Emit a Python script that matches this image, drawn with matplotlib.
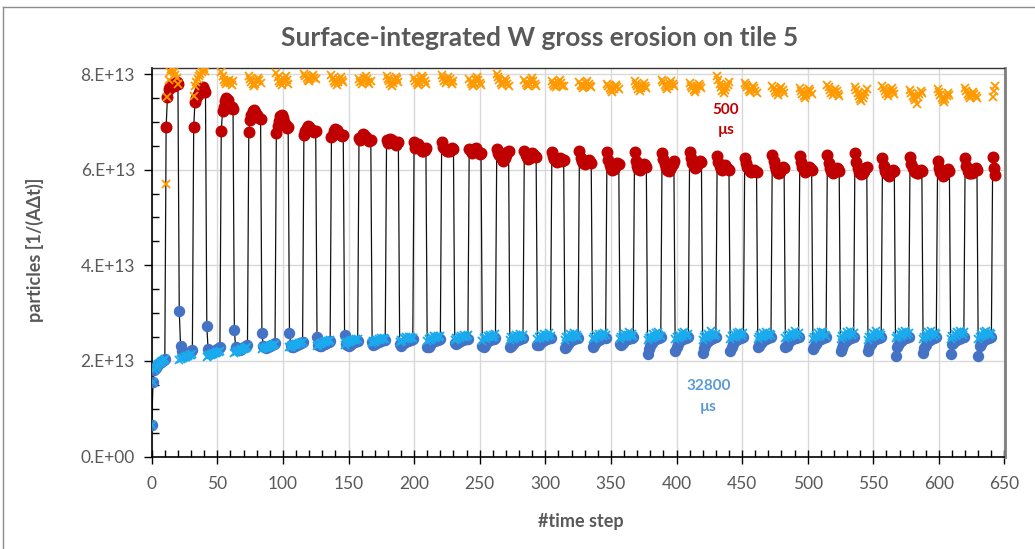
import numpy as np
import matplotlib
matplotlib.use("Agg")
import matplotlib.pyplot as plt
from matplotlib.lines import Line2D

# ---------------- data (units of 1e13 particles) ----------------
# main run: alternating phases, 32800 us steps (blue) and 500 us steps (red)
blue_phases = [
    [0.66, 1.55, 1.80, 1.86, 1.90, 1.93, 1.95, 1.97, 1.99, 2.01, 2.03],
    [3.04, 2.31, 2.20, 2.15, 2.12, 2.13, 2.14, 2.16, 2.18, 2.20, 2.22],
    [2.72, 2.24, 2.18, 2.16, 2.17, 2.19, 2.21, 2.22, 2.24, 2.26, 2.28],
    [2.64, 2.28, 2.24, 2.22, 2.23, 2.25, 2.27, 2.28, 2.30, 2.31, 2.33],
    [2.58, 2.32, 2.28, 2.27, 2.28, 2.30, 2.31, 2.33, 2.34, 2.35, 2.37],
    [2.58, 2.34, 2.30, 2.29, 2.31, 2.33, 2.34, 2.36, 2.37, 2.38, 2.39],
    [2.50, 2.34, 2.32, 2.31, 2.33, 2.35, 2.36, 2.38, 2.39, 2.40, 2.41],
    [2.54, 2.36, 2.33, 2.32, 2.34, 2.36, 2.38, 2.39, 2.40, 2.41, 2.42],
    [2.40, 2.34, 2.35, 2.37, 2.39, 2.40, 2.41, 2.42, 2.43, 2.44, 2.44],
    [2.36, 2.32, 2.35, 2.38, 2.40, 2.41, 2.42, 2.43, 2.44, 2.44, 2.45],
    [2.28, 2.30, 2.34, 2.37, 2.39, 2.41, 2.42, 2.43, 2.44, 2.45, 2.45],
    [2.38, 2.35, 2.37, 2.40, 2.42, 2.43, 2.44, 2.45, 2.45, 2.46, 2.46],
    [2.31, 2.30, 2.34, 2.38, 2.41, 2.43, 2.44, 2.45, 2.46, 2.46, 2.47],
    [2.28, 2.32, 2.36, 2.39, 2.41, 2.43, 2.44, 2.45, 2.46, 2.47, 2.47],
    [2.34, 2.33, 2.37, 2.40, 2.42, 2.44, 2.45, 2.46, 2.47, 2.47, 2.48],
    [2.26, 2.30, 2.35, 2.39, 2.42, 2.44, 2.45, 2.46, 2.47, 2.48, 2.48],
    [2.30, 2.33, 2.37, 2.40, 2.43, 2.44, 2.46, 2.47, 2.47, 2.48, 2.48],
    [2.36, 2.34, 2.38, 2.41, 2.43, 2.45, 2.46, 2.47, 2.48, 2.48, 2.49],
    [2.15, 2.24, 2.32, 2.38, 2.42, 2.44, 2.46, 2.47, 2.48, 2.48, 2.49],
    [2.21, 2.28, 2.35, 2.40, 2.43, 2.45, 2.46, 2.47, 2.48, 2.49, 2.49],
    [2.17, 2.26, 2.34, 2.39, 2.42, 2.44, 2.46, 2.47, 2.48, 2.49, 2.49],
    [2.21, 2.28, 2.35, 2.40, 2.43, 2.45, 2.46, 2.47, 2.48, 2.49, 2.50],
    [2.28, 2.31, 2.36, 2.40, 2.43, 2.45, 2.46, 2.47, 2.48, 2.49, 2.49],
    [2.30, 2.32, 2.37, 2.41, 2.44, 2.45, 2.47, 2.48, 2.48, 2.49, 2.50],
    [2.24, 2.29, 2.35, 2.40, 2.43, 2.45, 2.46, 2.47, 2.48, 2.49, 2.50],
    [2.21, 2.27, 2.34, 2.39, 2.42, 2.44, 2.46, 2.47, 2.48, 2.49, 2.49],
    [2.21, 2.28, 2.35, 2.40, 2.43, 2.45, 2.46, 2.47, 2.48, 2.49, 2.50],
    [2.10, 2.28, 2.34, 2.39, 2.42, 2.44, 2.46, 2.47, 2.48, 2.49, 2.50],
    [2.17, 2.26, 2.34, 2.39, 2.42, 2.44, 2.46, 2.47, 2.48, 2.49, 2.49],
    [2.14, 2.36, 2.38, 2.41, 2.43, 2.45, 2.46, 2.47, 2.48, 2.49, 2.50],
    [2.10, 2.31, 2.36, 2.40, 2.43, 2.45, 2.46, 2.47, 2.48, 2.49, 2.49],
]
red_phases = [
    [6.90, 7.52, 7.68, 7.74, 7.78, 7.80, 7.76, 7.79, 7.84, 7.80],
    [6.89, 7.42, 7.50, 7.56, 7.60, 7.66, 7.70, 7.72, 7.66, 7.62],
    [6.81, 7.22, 7.32, 7.44, 7.50, 7.46, 7.36, 7.30, 7.31, 7.26],
    [6.79, 7.04, 7.14, 7.22, 7.25, 7.20, 7.15, 7.10, 7.08, 7.05],
    [6.77, 6.92, 7.02, 7.12, 7.14, 7.08, 7.00, 6.93, 6.88, 6.90],
    [6.72, 6.80, 6.88, 6.92, 6.90, 6.86, 6.82, 6.80, 6.78, 6.80],
    [6.68, 6.72, 6.80, 6.84, 6.82, 6.78, 6.74, 6.72, 6.70, 6.72],
    [6.66, 6.62, 6.70, 6.75, 6.73, 6.68, 6.65, 6.62, 6.60, 6.63],
    [6.62, 6.55, 6.60, 6.64, 6.62, 6.58, 6.55, 6.52, 6.55, 6.58],
    [6.58, 6.46, 6.50, 6.54, 6.50, 6.44, 6.40, 6.38, 6.42, 6.45],
    [6.58, 6.48, 6.45, 6.42, 6.40, 6.38, 6.40, 6.43, 6.46, 6.44],
    [6.44, 6.38, 6.34, 6.40, 6.44, 6.46, 6.40, 6.36, 6.33, 6.35],
    [6.44, 6.34, 6.30, 6.26, 6.22, 6.18, 6.24, 6.30, 6.36, 6.40],
    [6.38, 6.30, 6.26, 6.22, 6.25, 6.30, 6.35, 6.32, 6.28, 6.26],
    [6.36, 6.28, 6.22, 6.18, 6.16, 6.20, 6.24, 6.22, 6.18, 6.20],
    [6.38, 6.24, 6.18, 6.14, 6.12, 6.15, 6.18, 6.20, 6.16, 6.14],
    [6.37, 6.20, 6.10, 6.04, 6.00, 6.02, 6.06, 6.10, 6.14, 6.12],
    [6.36, 6.18, 6.08, 6.02, 6.00, 6.04, 6.08, 6.12, 6.10, 6.06],
    [6.35, 6.22, 6.12, 6.04, 6.00, 5.98, 6.02, 6.06, 6.12, 6.18],
    [6.37, 6.24, 6.14, 6.08, 6.04, 6.06, 6.10, 6.14, 6.18, 6.15],
    [6.29, 6.16, 6.08, 6.02, 6.00, 6.04, 6.10, 6.06, 6.02, 6.00],
    [6.25, 6.14, 6.06, 6.02, 5.98, 5.96, 5.98, 6.00, 5.98, 5.96],
    [6.31, 6.18, 6.08, 6.00, 5.94, 5.92, 5.96, 6.02, 6.06, 6.04],
    [6.28, 6.16, 6.06, 6.00, 5.96, 5.98, 6.02, 6.06, 6.04, 6.00],
    [6.30, 6.14, 6.04, 5.98, 5.94, 5.96, 6.00, 6.04, 6.02, 5.98],
    [6.35, 6.16, 6.04, 5.96, 5.92, 5.90, 5.94, 5.98, 6.04, 6.06],
    [6.25, 6.08, 5.98, 5.92, 5.88, 5.86, 5.90, 5.96, 6.00, 5.98],
    [6.27, 6.12, 6.04, 6.00, 5.96, 5.94, 5.92, 5.96, 6.00, 5.98],
    [6.19, 6.04, 5.96, 5.90, 5.86, 5.88, 5.92, 5.98, 6.02, 5.98],
    [6.25, 6.08, 5.98, 5.94, 5.92, 5.94, 5.96, 6.00, 6.04, 6.00],
    [6.27, 6.03, 5.88],
]
# reference runs with constant time step, shown at the same steps
lightblue_phases = [
    [0.66, 1.55, 1.80, 1.86, 1.90, 1.93, 1.95, 1.97, 1.99, 2.01, 2.03],
    [2.02, 2.04, 2.06, 2.07, 2.08, 2.09, 2.10, 2.11, 2.12, 2.13, 2.14],
    [2.08, 2.10, 2.12, 2.13, 2.14, 2.15, 2.16, 2.17, 2.18, 2.19, 2.20],
    [2.16, 2.18, 2.20, 2.21, 2.22, 2.23, 2.24, 2.25, 2.26, 2.27, 2.28],
    [2.24, 2.26, 2.27, 2.28, 2.29, 2.30, 2.31, 2.32, 2.33, 2.34, 2.35],
    [2.28, 2.30, 2.32, 2.33, 2.34, 2.35, 2.36, 2.37, 2.38, 2.38, 2.39],
    [2.32, 2.34, 2.36, 2.37, 2.38, 2.39, 2.40, 2.41, 2.42, 2.42, 2.43],
    [2.34, 2.37, 2.39, 2.40, 2.41, 2.42, 2.43, 2.44, 2.44, 2.45, 2.45],
    [2.38, 2.42, 2.40, 2.44, 2.43, 2.46, 2.44, 2.47, 2.45, 2.48, 2.46],
    [2.40, 2.44, 2.42, 2.47, 2.45, 2.49, 2.46, 2.50, 2.47, 2.51, 2.48],
    [2.42, 2.46, 2.44, 2.49, 2.46, 2.52, 2.48, 2.50, 2.53, 2.49, 2.52],
    [2.44, 2.48, 2.45, 2.51, 2.47, 2.53, 2.49, 2.55, 2.50, 2.52, 2.54],
    [2.42, 2.47, 2.50, 2.46, 2.53, 2.49, 2.55, 2.51, 2.54, 2.50, 2.56],
    [2.44, 2.49, 2.46, 2.52, 2.48, 2.55, 2.50, 2.53, 2.57, 2.51, 2.54],
    [2.45, 2.50, 2.47, 2.54, 2.49, 2.56, 2.51, 2.55, 2.52, 2.58, 2.53],
    [2.44, 2.49, 2.53, 2.48, 2.56, 2.50, 2.54, 2.58, 2.52, 2.55, 2.51],
    [2.46, 2.51, 2.48, 2.55, 2.50, 2.57, 2.52, 2.56, 2.53, 2.59, 2.54],
    [2.45, 2.50, 2.54, 2.49, 2.57, 2.51, 2.55, 2.60, 2.53, 2.56, 2.52],
    [2.43, 2.48, 2.52, 2.47, 2.56, 2.50, 2.58, 2.53, 2.61, 2.55, 2.52],
    [2.46, 2.51, 2.48, 2.55, 2.50, 2.58, 2.53, 2.60, 2.55, 2.52, 2.57],
    [2.44, 2.50, 2.54, 2.48, 2.57, 2.52, 2.62, 2.55, 2.59, 2.53, 2.56],
    [2.46, 2.52, 2.49, 2.56, 2.51, 2.59, 2.54, 2.61, 2.56, 2.53, 2.58],
    [2.45, 2.51, 2.55, 2.49, 2.58, 2.53, 2.60, 2.56, 2.52, 2.57, 2.54],
    [2.47, 2.52, 2.49, 2.56, 2.52, 2.59, 2.55, 2.62, 2.57, 2.53, 2.58],
    [2.45, 2.50, 2.55, 2.50, 2.58, 2.53, 2.60, 2.56, 2.61, 2.55, 2.52],
    [2.46, 2.52, 2.49, 2.57, 2.52, 2.60, 2.55, 2.62, 2.57, 2.54, 2.58],
    [2.44, 2.50, 2.55, 2.51, 2.59, 2.54, 2.62, 2.57, 2.53, 2.58, 2.55],
    [2.47, 2.53, 2.50, 2.57, 2.52, 2.61, 2.55, 2.63, 2.58, 2.54, 2.59],
    [2.45, 2.51, 2.56, 2.51, 2.60, 2.55, 2.62, 2.57, 2.53, 2.59, 2.56],
    [2.46, 2.52, 2.49, 2.57, 2.53, 2.61, 2.56, 2.63, 2.58, 2.55, 2.60],
    [2.45, 2.51, 2.56, 2.52, 2.60, 2.55, 2.62, 2.58, 2.54, 2.59, 2.56],
]
orange_phases = [
    [5.70, 7.52, 7.88, 8.05, 8.10, 8.08, 8.04, 7.98, 7.92, 7.80],
    [7.55, 7.76, 7.84, 7.90, 7.95, 8.00, 8.04, 8.08, 8.12, 8.06],
    [8.04, 7.96, 7.88, 7.84, 7.80, 7.84, 7.88, 7.82, 7.78, 7.85],
    [7.96, 7.90, 7.84, 7.80, 7.76, 7.80, 7.86, 7.92, 7.88, 7.82],
    [8.02, 7.94, 7.86, 7.82, 7.78, 7.84, 7.90, 7.96, 7.88, 7.80],
    [8.00, 7.96, 7.92, 7.88, 7.86, 7.90, 7.94, 7.98, 7.92, 7.90],
    [7.98, 7.92, 7.86, 7.82, 7.78, 7.84, 7.90, 7.94, 7.88, 7.84],
    [7.90, 7.84, 7.80, 7.86, 7.92, 7.96, 7.90, 7.84, 7.80, 7.86],
    [7.96, 7.90, 7.86, 7.80, 7.76, 7.82, 7.88, 7.94, 7.90, 7.84],
    [7.92, 7.86, 7.82, 7.78, 7.84, 7.90, 7.96, 7.92, 7.86, 7.80],
    [7.98, 7.92, 7.86, 7.82, 7.88, 7.94, 7.90, 7.84, 7.80, 7.86],
    [7.90, 7.84, 7.80, 7.76, 7.82, 7.88, 7.94, 7.88, 7.82, 7.78],
    [8.00, 7.94, 7.88, 7.82, 7.78, 7.84, 7.90, 7.86, 7.80, 7.76],
    [7.88, 7.82, 7.78, 7.74, 7.80, 7.86, 7.92, 7.86, 7.80, 7.76],
    [7.86, 7.80, 7.76, 7.72, 7.78, 7.84, 7.88, 7.82, 7.76, 7.74],
    [7.84, 7.78, 7.74, 7.70, 7.76, 7.82, 7.86, 7.80, 7.74, 7.72],
    [7.80, 7.76, 7.70, 7.66, 7.62, 7.68, 7.74, 7.78, 7.72, 7.68],
    [7.86, 7.80, 7.74, 7.68, 7.64, 7.70, 7.76, 7.82, 7.76, 7.70],
    [7.88, 7.84, 7.78, 7.72, 7.68, 7.74, 7.80, 7.86, 7.80, 7.74],
    [7.82, 7.76, 7.70, 7.66, 7.62, 7.68, 7.74, 7.80, 7.76, 7.70],
    [7.96, 7.88, 7.80, 7.72, 7.64, 7.60, 7.66, 7.72, 7.78, 7.84],
    [7.82, 7.78, 7.72, 7.66, 7.62, 7.68, 7.74, 7.70, 7.64, 7.60],
    [7.76, 7.70, 7.64, 7.60, 7.56, 7.62, 7.68, 7.72, 7.66, 7.60],
    [7.70, 7.64, 7.58, 7.54, 7.50, 7.56, 7.62, 7.68, 7.64, 7.58],
    [7.78, 7.72, 7.66, 7.60, 7.56, 7.62, 7.68, 7.64, 7.58, 7.54],
    [7.72, 7.66, 7.60, 7.54, 7.48, 7.44, 7.50, 7.56, 7.62, 7.68],
    [7.74, 7.70, 7.64, 7.58, 7.54, 7.60, 7.66, 7.70, 7.64, 7.58],
    [7.66, 7.60, 7.54, 7.50, 7.46, 7.38, 7.52, 7.58, 7.64, 7.60],
    [7.68, 7.62, 7.56, 7.50, 7.46, 7.42, 7.48, 7.54, 7.60, 7.56],
    [7.70, 7.64, 7.58, 7.54, 7.50, 7.56, 7.62, 7.58, 7.54, 7.50],
    [7.52, 7.64, 7.76],
]
UNIT = 1e13

title = "Surface-integrated W gross erosion on tile 5"
xlabel = "#time step"
ylabel = "particles [1/(AΔt)]"
x_ticks = [0, 50, 100, 150, 200, 250, 300, 350, 400, 450, 500, 550, 600, 650]
y_ticks = [0, 2, 4, 6, 8]
y_tick_labels = ["0.E+00", "2.E+13", "4.E+13", "6.E+13", "8.E+13"]
label_red = ["500", "µs"]
label_blue = ["32800", "µs"]

# ---------------- assemble series along the time-step axis ----------------
line_x, line_y = [], []
bx, by, lbx, lby = [], [], [], []
rx, ry, ox, oy = [], [], [], []
step = 0
for j in range(len(blue_phases)):
    for v, w in zip(blue_phases[j], lightblue_phases[j]):
        line_x.append(step); line_y.append(v * UNIT)
        bx.append(step); by.append(v * UNIT)
        lbx.append(step); lby.append(w * UNIT)
        step += 1
    if j < len(red_phases):
        for v, w in zip(red_phases[j], orange_phases[j]):
            line_x.append(step); line_y.append(v * UNIT)
            rx.append(step); ry.append(v * UNIT)
            ox.append(step); oy.append(w * UNIT)
            step += 1

# ---------------- figure ----------------
W, H = 1035, 549
fig = plt.figure(figsize=(W / 100, H / 100), dpi=100)
FONT = ["Lato", "DejaVu Sans"]
GRAY = "#595959"

# chart-area border
fig.add_artist(Line2D([3 / W, 3 / W], [0, 1 - 7 / H], color="#8c8c8c", lw=1.0))
fig.add_artist(Line2D([3 / W, 1], [1 - 7 / H, 1 - 7 / H], color="#8c8c8c", lw=1.0))

L, R, B, T = 151.7, 1004.5, 456.5, 68.3
ax = fig.add_axes([L / W, 1 - B / H, (R - L) / W, (B - T) / H])
ax.set_xlim(0, 650)
ax.set_ylim(0, 8.12 * UNIT)

ax.grid(True, which="major", color="#D9D9D9", lw=1.0, zorder=0)
ax.set_axisbelow(True)

ax.plot(line_x, line_y, color="#111111", lw=0.9, zorder=2)
ax.plot(rx, ry, ls="none", marker="o", ms=7.6, mfc="#C00000", mec="#C00000", zorder=3)
ax.plot(bx, by, ls="none", marker="o", ms=7.2, mfc="#4472C4", mec="#4472C4", zorder=3)
ax.plot(lbx, lby, ls="none", marker="x", ms=5.6, mew=1.3, color="#1AABEF", zorder=4)
ax.plot(ox, oy, ls="none", marker="x", ms=5.6, mew=1.3, color="#FF9900", zorder=4)

ax.set_xticks(x_ticks)
ax.set_xticks(list(range(0, 651, 10)), minor=True)
ax.set_yticks([v * UNIT for v in y_ticks])
ax.set_yticklabels(y_tick_labels)
ax.set_yticks([v * 0.5 * UNIT for v in range(0, 17)], minor=True)

ax.tick_params(axis="x", which="major", direction="inout", length=10, width=1,
               pad=9, labelsize=12.5, labelcolor=GRAY)
ax.tick_params(axis="x", which="minor", direction="in", length=5, width=1)
ax.tick_params(axis="y", which="major", direction="out", length=6, width=1,
               pad=6, labelsize=12.5, labelcolor=GRAY)
ax.tick_params(axis="y", which="minor", direction="in", length=5, width=1)
for lab in ax.get_xticklabels() + ax.get_yticklabels():
    lab.set_family(FONT)

for s in ("left", "bottom"):
    ax.spines[s].set_color("black"); ax.spines[s].set_linewidth(1.2)
ax.spines["top"].set_color("#333333"); ax.spines["top"].set_linewidth(1.0)
ax.spines["right"].set_color("#7f7f7f"); ax.spines["right"].set_linewidth(2.0)

# texts
fig.text(540 / W, 1 - 38 / H, title, ha="center", va="center", fontsize=19,
         fontweight="bold", color=GRAY, family=FONT)
fig.text(581 / W, 1 - 522 / H, xlabel, ha="center", va="center", fontsize=13,
         fontweight="bold", color=GRAY, family=FONT)
fig.text(35 / W, 1 - 250 / H, ylabel, ha="center", va="center", rotation=90,
         fontsize=13, fontweight="bold", color=GRAY, family=FONT)

ax.text(437.7, 7.24 * UNIT, label_red[0], ha="center", va="center", fontsize=11,
        fontweight="bold", color="#C00000", family=FONT, zorder=6)
ax.text(437.7, 6.82 * UNIT, label_red[1], ha="center", va="center", fontsize=11,
        fontweight="bold", color="#C00000", family=FONT, zorder=6)
ax.text(424.5, 1.47 * UNIT, label_blue[0], ha="center", va="center", fontsize=11,
        fontweight="bold", color="#5B9BD5", family=FONT, zorder=6)
ax.text(424.5, 1.03 * UNIT, label_blue[1], ha="center", va="center", fontsize=11,
        fontweight="bold", color="#5B9BD5", family=FONT, zorder=6)

fig.savefig("out.png", dpi=100)
